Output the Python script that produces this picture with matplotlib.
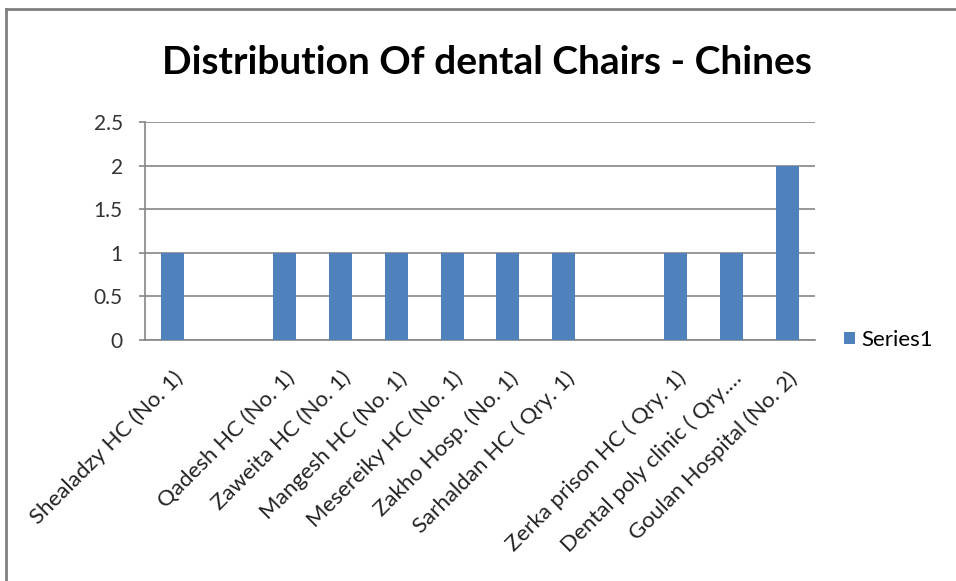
import numpy as np
import matplotlib
matplotlib.use('Agg')
from matplotlib import pyplot as plt
from matplotlib.lines import Line2D

# dental chairs per site, blank slots are empty rows in the sheet
sites = ['Shealadzy HC (No. 1)', '', 'Qadesh HC (No. 1)', 'Zaweita HC (No. 1)',
         'Mangesh HC (No. 1)', 'Mesereiky HC (No. 1)', 'Zakho Hosp. (No. 1)',
         'Sarhaldan HC ( Qry. 1)', '', 'Zerka prison HC ( Qry. 1)',
         'Dental poly clinic ( Qry.\u2026', 'Goulan Hospital (No. 2)']
chairs = [1, 0, 1, 1, 1, 1, 1, 1, 0, 1, 1, 2]
y_ticks = [0, 0.5, 1, 1.5, 2, 2.5]
y_labels = ['0', '0.5', '1', '1.5', '2', '2.5']

plt.rcParams['font.family'] = ['Lato', 'DejaVu Sans']

fig = plt.figure(figsize=(9.56, 5.81), dpi=100)
ax = fig.add_axes([0.1517, 0.4148, 0.7008, 0.3752])

x = np.arange(len(sites))
ax.bar(x, chairs, width=0.41, color='#4F81BD', label='Series1', zorder=3)

ax.set_xlim(-0.5, len(sites) - 0.5)
ax.set_ylim(0, 2.5)
ax.set_yticks(y_ticks)
ax.set_yticklabels(y_labels, fontsize=15, color='#333333')
ax.yaxis.grid(True, color='#868686', linewidth=1.2, zorder=0)
ax.tick_params(axis='y', length=4, width=1.2, color='#868686', pad=12)
ax.set_xticks(x)
ax.set_xticklabels(sites, rotation=45, ha='right', rotation_mode='anchor',
                   fontsize=16, color='#222222')
ax.tick_params(axis='x', length=0, pad=20)
for side in ['top', 'right']:
    ax.spines[side].set_visible(False)
for side in ['left', 'bottom']:
    ax.spines[side].set_color('#868686')
    ax.spines[side].set_linewidth(1.2)

fig.text(0.509, 0.893, 'Distribution Of dental Chairs - Chines',
         ha='center', va='center', fontsize=28, fontweight='bold')

ax.legend(loc='center left', bbox_to_anchor=(1.03, 0.0), frameon=False,
          fontsize=16, handlelength=0.5, handleheight=0.5, handletextpad=0.3,
          borderaxespad=0)

# chart area border, only top and left edges show
fig.add_artist(Line2D([0.006, 1.0], [0.984, 0.984], transform=fig.transFigure,
                      color='#808080', linewidth=2))
fig.add_artist(Line2D([0.006, 0.006], [0.0, 0.984], transform=fig.transFigure,
                      color='#808080', linewidth=2))

fig.savefig('out.png', dpi=100)
